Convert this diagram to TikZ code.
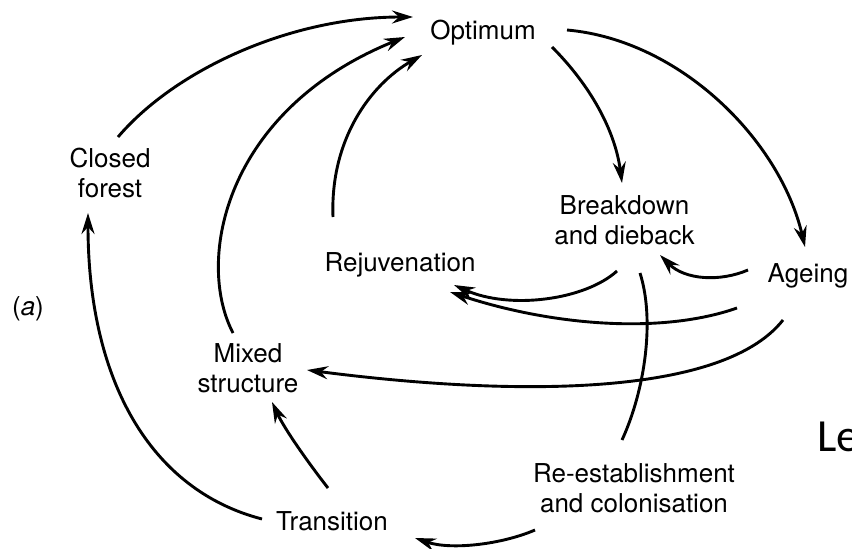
\documentclass[tikz,border=0pt]{standalone}
\usepackage{fontspec}
\setmainfont{TeX Gyre Heros}
\newfontfamily\lefont{Carlito}
\usetikzlibrary{arrows.meta}
\tikzset{
  lbl/.style={inner sep=0pt, align=center, font=\fontsize{26}{30}\selectfont},
  conn/.style={line width=2.9pt, -{Stealth[length=21pt,width=13pt,inset=7pt]}},
  plainconn/.style={line width=2.9pt},
}
\begin{document}
\begin{tikzpicture}[x=1pt,y=-1pt]
\useasboundingbox (0,0) rectangle (852,549);
% nodes
\node[lbl,anchor=base] (opt) at (483,39) {Optimum};
\node[lbl] (cf) at (110,172.5) {Closed\\forest};
\node[lbl] (bd) at (624.5,220.5) {Breakdown\\and dieback};
\node[lbl,anchor=base] (rej) at (400,271) {Rejuvenation};
\node[lbl,anchor=base] (age) at (808,282) {Ageing};
\node[lbl,anchor=base] (lab) at (28,315) {(\textit{a})};
\node[lbl] (mix) at (248,368.5) {Mixed\\structure};
\node[lbl] (re) at (634,488.5) {Re-establishment\\and colonisation};
\node[lbl,anchor=base] (tra) at (332,530) {Transition};
\node[inner sep=0pt,anchor=base west,font=\lefont\fontsize{46}{50}\selectfont] (le) at (817,451) {Le};
% connectors
\draw[conn] ([shift={(8,-35.5)}]cf.center) .. controls (175,70) and (290,17) .. ([shift={(-70,-22)}]opt.base);
\draw[conn] ([shift={(-15,-35.5)}]mix.center) .. controls (195,260) and (225,110) .. ([shift={(-78,-2)}]opt.base);
\draw[conn] ([shift={(-67,-54)}]rej.base) .. controls (330,140) and (370,85) .. ([shift={(-61,16)}]opt.base);
\draw[conn] ([shift={(69,8)}]opt.base) .. controls (590,85) and (615,130) .. ([shift={(-2.5,-37.5)}]bd.center);
\draw[conn] ([shift={(84,-9)}]opt.base) .. controls (680,40) and (780,140) .. ([shift={(-3,-35)}]age.base);
\draw[conn] ([shift={(-60,-12)}]age.base) .. controls (720,282) and (685,280) .. ([shift={(35.5,34.5)}]bd.center);
\draw[conn] ([shift={(-7.5,50.5)}]bd.center) .. controls (585,300) and (510,310) .. ([shift={(54,14)}]rej.base);
\draw[conn] ([shift={(-71,26)}]age.base) .. controls (660,335) and (550,325) .. ([shift={(50,21)}]rej.base);
\draw[conn] ([shift={(-25,38)}]age.base) .. controls (720,400) and (500,395) .. ([shift={(59,1.5)}]mix.center);
\draw[plainconn] ([shift={(15.5,52.5)}]bd.center) .. controls (655,320) and (645,390) .. ([shift={(-12,-48.5)}]re.center);
\draw[conn] ([shift={(-99,41.5)}]re.center) .. controls (500,545) and (450,550) .. ([shift={(83,8)}]tra.base);
\draw[conn] ([shift={(-4,-42)}]tra.base) .. controls (310,465) and (285,430) .. ([shift={(24,33.5)}]mix.center);
\draw[conn] ([shift={(-70,-11)}]tra.base) .. controls (150,490) and (88,380) .. ([shift={(-22,40.5)}]cf.center);
\end{tikzpicture}
\end{document}
